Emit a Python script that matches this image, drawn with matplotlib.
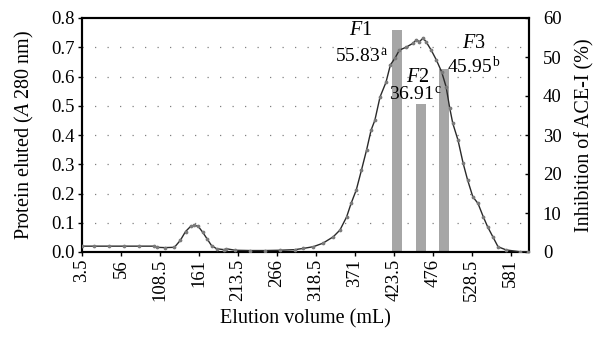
import matplotlib
matplotlib.use("Agg")
import matplotlib.pyplot as plt

plt.rcParams['font.family'] = ['Liberation Serif', 'DejaVu Serif']
plt.rcParams['mathtext.fontset'] = 'custom'
plt.rcParams['mathtext.rm'] = 'Liberation Serif'
plt.rcParams['mathtext.it'] = 'Liberation Serif:italic'

# Elution profile (volume mL, absorbance at 280 nm)
volume = [3.5, 20, 40, 60, 80, 100, 104, 115, 128, 136, 143, 150, 155, 160, 166,
          172, 178, 185, 195, 198, 210, 230, 250, 270, 290, 301, 315, 328, 342,
          351, 360, 366, 373, 380, 387, 393, 398, 405, 413, 419, 425, 431, 440,
          449, 454, 458, 463, 467, 474, 481, 488, 494, 499, 503, 510, 517, 523,
          530, 537, 544, 550, 557, 564, 575, 593, 604]
absorb = [0.02, 0.02, 0.02, 0.02, 0.02, 0.02, 0.016, 0.015, 0.016, 0.04, 0.07,
          0.088, 0.091, 0.088, 0.068, 0.045, 0.022, 0.011, 0.008, 0.011, 0.006,
          0.005, 0.005, 0.006, 0.008, 0.012, 0.018, 0.03, 0.052, 0.075, 0.12,
          0.166, 0.212, 0.28, 0.35, 0.417, 0.45, 0.53, 0.58, 0.64, 0.662, 0.69,
          0.70, 0.713, 0.725, 0.719, 0.731, 0.719, 0.69, 0.656, 0.616, 0.565,
          0.491, 0.44, 0.383, 0.303, 0.246, 0.189, 0.166, 0.121, 0.086, 0.052,
          0.018, 0.007, 0.001, 0.0]

# ACE-I inhibition of fractions
fractions = ['F1', 'F2', 'F3']
frac_volume = [428.3, 459.9, 491.4]
inhibition = [56.8, 37.9, 46.9]
inhib_text = ['55.83', '36.91', '45.95']
letters = ['a', 'c', 'b']

xticks = [3.5, 56, 108.5, 161, 213.5, 266, 318.5, 371, 423.5, 476, 528.5, 581]
xtick_labels = ['3.5', '56', '108.5', '161', '213.5', '266', '318.5', '371',
                '423.5', '476', '528.5', '581']
left_ticks = [0.0, 0.1, 0.2, 0.3, 0.4, 0.5, 0.6, 0.7, 0.8]
right_ticks = [0, 10, 20, 30, 40, 50, 60]

fig = plt.figure(figsize=(6.0, 3.42), dpi=100)
ax = fig.add_axes([82/600, 1-252/342, (529-82)/600, (252-18)/342])
ax2 = ax.twinx()

# bars on right axis, drawn beneath the curve
ax.set_zorder(ax2.get_zorder() + 1)
ax.patch.set_visible(False)

ax2.set_ylim(0, 60)
ax.set_ylim(0, 0.8)
ax.set_xlim(3.5, 605.7)

for t in left_ticks[1:-1]:
    ax2.axhline(t * 60 / 0.8, color='#808080', lw=0.9,
                linestyle=(0, (1, 9)), zorder=0)

ax2.bar(frac_volume, inhibition, width=13.5, color='#a6a6a6', zorder=2)

ax.plot(volume, absorb, color='#2a2a2a', lw=1.0, marker='o', ms=1.7,
        mfc='#7a7a7a', mec='#7a7a7a', zorder=3)

ax.set_xticks(xticks)
ax.set_xticklabels(xtick_labels, rotation=90, fontsize=13.5)
ax.set_yticks(left_ticks)
ax.set_yticklabels([f'{t:.1f}' for t in left_ticks], fontsize=13.5)
ax2.set_yticks(right_ticks)
ax2.set_yticklabels([str(t) for t in right_ticks], fontsize=13.5)

for a in (ax, ax2):
    for s in a.spines.values():
        s.set_linewidth(1.5)
ax.tick_params(axis='both', length=3, width=1, pad=2)
ax2.tick_params(axis='y', direction='in', length=3, width=1, pad=10)

ax.set_xlabel('Elution volume (mL)', fontsize=14.5)
ax.set_ylabel('Protein eluted ($A$ 280 nm)', fontsize=14.5)
ax2.set_ylabel('Inhibition of ACE-I (%)', fontsize=14.5)
ax.xaxis.set_label_coords(0.5, (252-309)/234)
ax.yaxis.set_label_coords((36-82)/447, 0.5)
ax2.yaxis.set_label_coords((575-82)/447, 0.5)

# annotations: (name offset, value offset) in pixels -> points
px = 72 / 100
offsets = [((-37, 0), (-36, -26)), ((-3, 27), (-5, 9)), ((30, 26), (30, 3))]
for name, xv, h, txt, let, (o1, o2) in zip(fractions, frac_volume, inhibition,
                                            inhib_text, letters, offsets):
    ax2.annotate(f'$F${name[1:]}', xy=(xv, h), xytext=(o1[0]*px, o1[1]*px),
                 textcoords='offset points', ha='center', va='center', fontsize=14.5)
    ax2.annotate(f'{txt}$^{{\\,\\mathrm{{{let}}}}}$', xy=(xv, h),
                 xytext=(o2[0]*px, o2[1]*px), textcoords='offset points',
                 ha='center', va='center', fontsize=14)

fig.savefig('out.png', dpi=100)
